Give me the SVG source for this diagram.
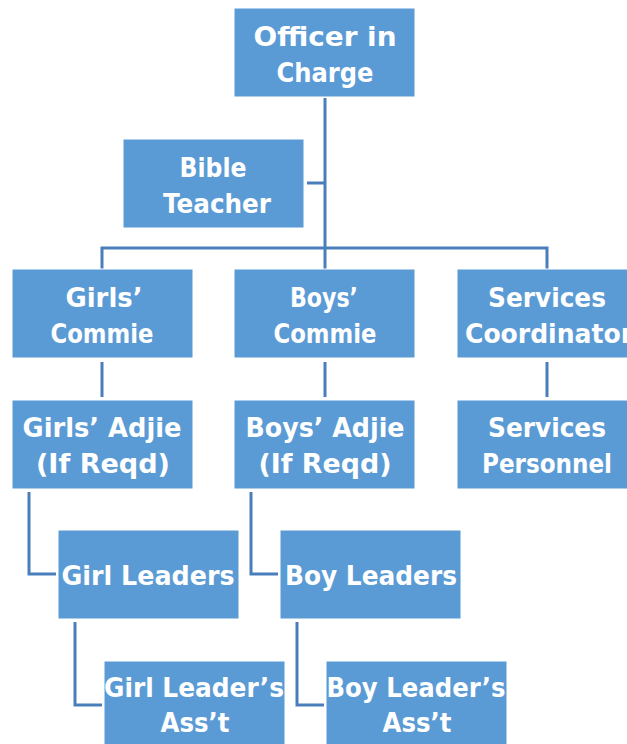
<svg xmlns="http://www.w3.org/2000/svg" width="627" height="744" viewBox="0 0 627 744">
<style>
.box{fill:#5B9BD5;stroke:#ffffff;stroke-width:1}
.t{font-family:"Comic Sans MS","DejaVu Sans",sans-serif;font-weight:bold;font-size:26px;fill:#ffffff;text-anchor:middle}
.c{fill:none;stroke:#4A7EBB;stroke-width:3}
</style>
<rect width="627" height="744" fill="#ffffff"/>
<g id="connectors">
<path class="c" d="M325 98 V248 M307 183 H325 M102 269 V248 H547 V269 M325 248 V269"/>
<path class="c" d="M102 362 V397 M325 362 V397 M547 362 V397"/>
<path class="c" d="M29 492 V574 H56 M251 492 V574 H278"/>
<path class="c" d="M75 622 V705 H102 M297 622 V705 H324"/>
</g>
<g id="officer"><rect class="box" x="234" y="8" width="181" height="89"/>
<text class="t" x="325" y="46" textLength="143" lengthAdjust="spacingAndGlyphs">Officer in</text>
<text class="t" x="325" y="82" textLength="97" lengthAdjust="spacingAndGlyphs">Charge</text></g>
<g id="bible"><rect class="box" x="123" y="139" width="181" height="89"/>
<text class="t" x="213" y="177" textLength="67" lengthAdjust="spacingAndGlyphs">Bible</text>
<text class="t" x="217" y="213" textLength="108" lengthAdjust="spacingAndGlyphs">Teacher</text></g>
<g id="girls-commie"><rect class="box" x="12" y="269" width="181" height="89"/>
<text class="t" x="104" y="307" textLength="77" lengthAdjust="spacingAndGlyphs">Girls’</text>
<text class="t" x="102" y="343" textLength="103" lengthAdjust="spacingAndGlyphs">Commie</text></g>
<g id="boys-commie"><rect class="box" x="234" y="269" width="181" height="89"/>
<text class="t" x="324" y="307" textLength="68" lengthAdjust="spacingAndGlyphs">Boys’</text>
<text class="t" x="325" y="343" textLength="103" lengthAdjust="spacingAndGlyphs">Commie</text></g>
<g id="services-coord"><rect class="box" x="457" y="269" width="181" height="89"/>
<text class="t" x="547" y="307" textLength="118" lengthAdjust="spacingAndGlyphs">Services</text>
<text class="t" x="549" y="343" textLength="168" lengthAdjust="spacingAndGlyphs">Coordinator</text></g>
<g id="girls-adjie"><rect class="box" x="12" y="400" width="181" height="89"/>
<text class="t" x="102" y="437" textLength="159" lengthAdjust="spacingAndGlyphs">Girls’ Adjie</text>
<text class="t" x="103" y="473" textLength="134" lengthAdjust="spacingAndGlyphs">(If Reqd)</text></g>
<g id="boys-adjie"><rect class="box" x="234" y="400" width="181" height="89"/>
<text class="t" x="325" y="437" textLength="159" lengthAdjust="spacingAndGlyphs">Boys’ Adjie</text>
<text class="t" x="325" y="473" textLength="133" lengthAdjust="spacingAndGlyphs">(If Reqd)</text></g>
<g id="services-personnel"><rect class="box" x="457" y="400" width="181" height="89"/>
<text class="t" x="547" y="437" textLength="118" lengthAdjust="spacingAndGlyphs">Services</text>
<text class="t" x="547" y="473" textLength="130" lengthAdjust="spacingAndGlyphs">Personnel</text></g>
<g id="girl-leaders"><rect class="box" x="58" y="530" width="181" height="89"/>
<text class="t" x="148" y="585" textLength="173" lengthAdjust="spacingAndGlyphs">Girl Leaders</text></g>
<g id="boy-leaders"><rect class="box" x="280" y="530" width="181" height="89"/>
<text class="t" x="371" y="585" textLength="172" lengthAdjust="spacingAndGlyphs">Boy Leaders</text></g>
<g id="girl-asst"><rect class="box" x="104" y="661" width="181" height="89"/>
<text class="t" x="194" y="697" textLength="180" lengthAdjust="spacingAndGlyphs">Girl Leader’s</text>
<text class="t" x="195" y="732" textLength="69" lengthAdjust="spacingAndGlyphs">Ass’t</text></g>
<g id="boy-asst"><rect class="box" x="326" y="661" width="181" height="89"/>
<text class="t" x="416" y="697" textLength="179" lengthAdjust="spacingAndGlyphs">Boy Leader’s</text>
<text class="t" x="417" y="732" textLength="69" lengthAdjust="spacingAndGlyphs">Ass’t</text></g>
</svg>
